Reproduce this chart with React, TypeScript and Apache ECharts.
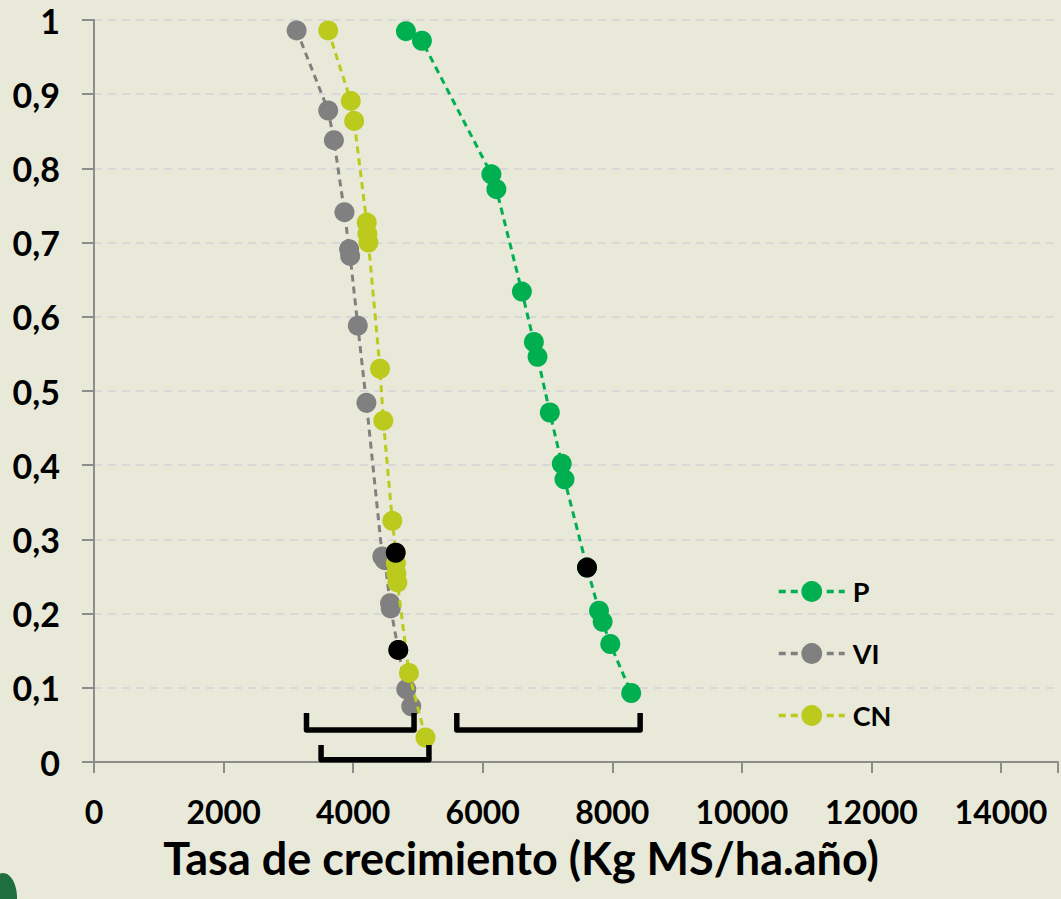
import React, { useEffect, useRef } from "react";
import * as echarts from "echarts";

// Series values: [Tasa de crecimiento (Kg MS/ha.año), cumulative probability]
const pData: number[][] = [
  [4815, 0.985], [5062, 0.972], [6134, 0.792], [6211, 0.772], [6605, 0.634],
  [6790, 0.566], [6846, 0.546], [7036, 0.471], [7220, 0.402], [7262, 0.381],
  [7610, 0.262], [7795, 0.204], [7851, 0.189], [7969, 0.159], [8292, 0.093],
];
const viData: number[][] = [
  [3128, 0.986], [3615, 0.878], [3703, 0.838], [3866, 0.741], [3938, 0.691],
  [3954, 0.682], [4072, 0.588], [4205, 0.484], [4450, 0.277], [4490, 0.272],
  [4570, 0.214], [4580, 0.207], [4697, 0.151], [4820, 0.098], [4897, 0.075],
];
const cnData: number[][] = [
  [3615, 0.986], [3964, 0.891], [4015, 0.864], [4210, 0.727], [4220, 0.712],
  [4236, 0.700], [4415, 0.530], [4466, 0.460], [4605, 0.325], [4657, 0.282],
  [4660, 0.268], [4667, 0.254], [4683, 0.242], [4861, 0.120], [5117, 0.033],
];
// Highlighted (black) points
const blackPoints: number[][] = [[7610, 0.262], [4657, 0.282], [4697, 0.151]];
// Brackets: [xStart, xEnd, yTop, yBottom]
const brackets: number[][] = [
  [3280, 4940, 0.066, 0.043],
  [3505, 5170, 0.023, 0.003],
  [5600, 8430, 0.066, 0.043],
];

const seriesNames = ["P", "VI", "CN"];
const seriesColors = ["#00B050", "#808080", "#BBCA1C"];
const yTickLabels = ["0", "0,1", "0,2", "0,3", "0,4", "0,5", "0,6", "0,7", "0,8", "0,9", "1"];
const xTickStep = 2000;
const xAxisMax = 14880;
const xTitle = "Tasa de crecimiento (Kg MS/ha.año)";

const FONT = "Lato, 'Open Sans', sans-serif";
const BG = "#E8E9D8";

export default function App() {
  const ref = useRef<HTMLDivElement>(null);
  useEffect(() => {
    if (!ref.current) return;
    const chart = echarts.init(ref.current, undefined, { renderer: "svg" });
    const datasets = [pData, viData, cnData];
    const lineSeries = datasets.map((d, i) => ({
      name: seriesNames[i],
      type: "line",
      data: d,
      symbol: "circle",
      symbolSize: 20,
      showAllSymbol: true,
      z: 2 + i,
      lineStyle: { color: seriesColors[i], width: 3, type: [7, 5] },
      itemStyle: { color: seriesColors[i], opacity: 1 },
    }));
    chart.setOption({
      animation: false,
      backgroundColor: BG,
      grid: { left: 94, top: 20, right: 0, bottom: 137, containLabel: false },
      legend: {
        data: seriesNames,
        orient: "vertical",
        left: 772,
        top: 573,
        itemWidth: 66,
        itemHeight: 26,
        itemGap: 35,
        lineStyle: { width: 3.5 },
        textStyle: { fontFamily: FONT, fontWeight: "bold", fontSize: 27, color: "#000", padding: [0, 0, 0, 3] },
      },
      xAxis: {
        type: "value",
        min: 0,
        max: xAxisMax,
        interval: xTickStep,
        axisLine: { show: true, lineStyle: { color: "#8C8C8C", width: 2 } },
        axisTick: { show: true, length: 11, lineStyle: { color: "#8C8C8C", width: 2 } },
        splitLine: { show: false },
        axisLabel: {
          margin: 33,
          fontFamily: FONT,
          fontWeight: "bold",
          fontSize: 32,
          color: "#000",
          formatter: (v: number) => (v % xTickStep === 0 ? String(v) : ""),
        },
      },
      yAxis: {
        type: "value",
        min: 0,
        max: 1,
        interval: 0.1,
        axisLine: { show: true, lineStyle: { color: "#8C8C8C", width: 2 } },
        axisTick: { show: true, length: 12, lineStyle: { color: "#8C8C8C", width: 2 } },
        splitLine: { show: true, lineStyle: { color: "#D8D8D8", width: 2, type: [8, 6] } },
        axisLabel: {
          margin: 34,
          fontFamily: FONT,
          fontWeight: "bold",
          fontSize: 34,
          color: "#000",
          formatter: (v: number) => yTickLabels[Math.round(v * 10)] ?? "",
        },
      },
      graphic: [
        {
          type: "text",
          x: 521,
          y: 858,
          style: {
            text: xTitle,
            fontFamily: FONT,
            fontWeight: "bold",
            fontSize: 45,
            fill: "#000",
            textAlign: "center",
            textVerticalAlign: "middle",
          },
        },
        {
          type: "ellipse",
          shape: { cx: 3, cy: 898, rx: 14, ry: 25 },
          style: { fill: "#1F6E3E" },
        },
      ],
      series: [
        ...lineSeries,
        {
          name: "highlight",
          type: "scatter",
          data: blackPoints,
          symbol: "circle",
          symbolSize: 20,
          z: 10,
          itemStyle: { color: "#000", opacity: 1 },
        },
        {
          name: "brackets",
          type: "custom",
          data: brackets,
          encode: { x: [0, 1], y: [2, 3] },
          z: 11,
          renderItem: (_p: any, api: any) => {
            const x1 = api.value(0), x2 = api.value(1), yt = api.value(2), yb = api.value(3);
            const pts = [api.coord([x1, yt]), api.coord([x1, yb]), api.coord([x2, yb]), api.coord([x2, yt])];
            return {
              type: "polyline",
              shape: { points: pts },
              style: { stroke: "#000", lineWidth: 5.5, fill: null, lineJoin: "round", lineCap: "butt" },
            };
          },
        },
      ],
    });
    return () => chart.dispose();
  }, []);
  return (
    <div
      ref={ref}
      style={{ position: "fixed", left: 0, top: 0, width: 1061, height: 899, background: BG }}
    />
  );
}
